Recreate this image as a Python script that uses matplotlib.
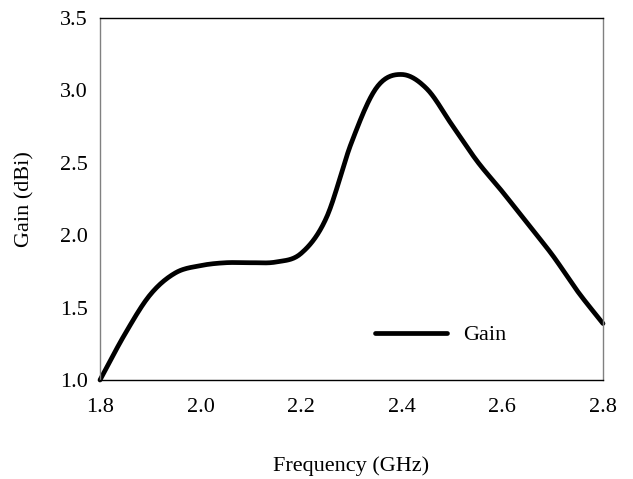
import numpy as np
import matplotlib
matplotlib.use("Agg")
import matplotlib.pyplot as plt
from matplotlib import font_manager

freq = [1.80, 1.85, 1.90, 1.95, 2.00, 2.05, 2.10, 2.15, 2.20, 2.25, 2.30,
        2.35, 2.40, 2.45, 2.50, 2.55, 2.60, 2.65, 2.70, 2.75, 2.80]
gain = [1.00, 1.32, 1.59, 1.74, 1.79, 1.81, 1.81, 1.815, 1.875, 2.12, 2.64,
        3.02, 3.11, 3.01, 2.76, 2.51, 2.30, 2.08, 1.86, 1.61, 1.39]
xticks = [1.8, 2.0, 2.2, 2.4, 2.6, 2.8]
yticks = [1.0, 1.5, 2.0, 2.5, 3.0, 3.5]


def smooth(x, y, n=20):
    # Catmull-Rom rendering of the smoothed line (like a spreadsheet "smooth line")
    x = np.asarray(x, float); y = np.asarray(y, float)
    P = np.column_stack([x, y])
    P = np.vstack([P[0] - (P[1] - P[0]), P, P[-1] + (P[-1] - P[-2])])
    out = []
    for i in range(1, len(P) - 2):
        p0, p1, p2, p3 = P[i - 1], P[i], P[i + 1], P[i + 2]
        t = np.linspace(0, 1, n, endpoint=False)[:, None]
        seg = 0.5 * ((2 * p1) + (-p0 + p2) * t + (2 * p0 - 5 * p1 + 4 * p2 - p3) * t ** 2
                     + (-p0 + 3 * p1 - 3 * p2 + p3) * t ** 3)
        out.append(seg)
    out.append(P[-2][None, :])
    out = np.vstack(out)
    return out[:, 0], out[:, 1]


names = {f.name for f in font_manager.fontManager.ttflist}
family = 'DejaVu Serif'
for cand in ['Liberation Serif', 'Times New Roman', 'Nimbus Roman', 'Nimbus Roman No9 L',
             'TeX Gyre Termes', 'FreeSerif', 'STIXGeneral', 'Noto Serif']:
    if cand in names:
        family = cand
        break
plt.rcParams['font.family'] = [family, 'DejaVu Serif']

fig = plt.figure(figsize=(6.33, 4.79), dpi=100)
ax = fig.add_axes([100 / 633, 1 - 380 / 479, 503 / 633, 362 / 479])

sx, sy = smooth(freq, gain)
ax.plot(sx, sy, color='black', lw=3.4, solid_capstyle='round', label='Gain', clip_on=False)

ax.set_xlim(1.8, 2.8)
ax.set_ylim(1.0, 3.5)
ax.set_xticks(xticks)
ax.set_xticklabels([f"{v:.1f}" for v in xticks])
ax.set_yticks(yticks)
ax.set_yticklabels([f"{v:.1f}" for v in yticks])
ax.tick_params(axis='both', length=0, labelsize=16)
ax.tick_params(axis='x', pad=13)
ax.tick_params(axis='y', pad=9)

for s in ['top', 'bottom']:
    ax.spines[s].set_color('black')
    ax.spines[s].set_linewidth(1.0)
for s in ['left', 'right']:
    ax.spines[s].set_color('#808080')
    ax.spines[s].set_linewidth(1.0)

ax.set_xlabel('Frequency (GHz)', fontsize=16, va='center')
ax.xaxis.set_label_coords(0.5, (380 - 466) / 362)
ax.set_ylabel('Gain (dBi)', fontsize=16, va='center')
ax.yaxis.set_label_coords((25 - 100) / 503, 0.5)

ax.legend(loc='center left', bbox_to_anchor=((375 - 100) / 503, (380 - 335) / 362),
          frameon=False, fontsize=16, handlelength=3.25, handletextpad=0.72,
          borderpad=0, borderaxespad=0)

fig.savefig('out.png', dpi=100)
